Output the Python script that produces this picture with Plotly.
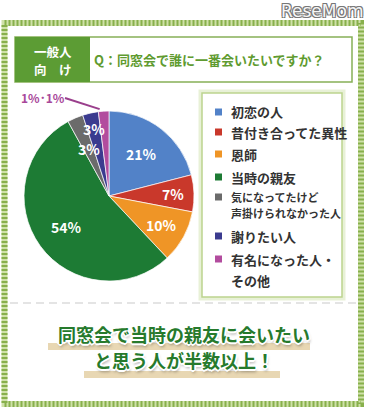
import numpy as np
import plotly.graph_objects as go

W, H = 368, 414

# ---- data ----
categories = ["初恋の人", "昔付き合ってた異性", "恩師", "当時の親友",
              "気になってたけど<br>声掛けられなかった人", "謝りたい人",
              "有名になった人・<br>その他", "有名になった人・<br>その他"]
values = [21, 7, 10, 54, 3, 3, 1, 1]
colors = ["#5282c8", "#c9382b", "#ef9526", "#1d7b34", "#6b6b6b", "#3b3b8f", "#b24c9e"]
legend_lines = [["初恋の人"], ["昔付き合ってた異性"], ["恩師"], ["当時の親友"],
                ["気になってたけど", "声掛けられなかった人"], ["謝りたい人"],
                ["有名になった人・", "その他"]]
title_tag = ["一般人", "向　け"]
question = "Q：同窓会で誰に一番会いたいですか？"
conclusion = ["同窓会で当時の親友に会いたい", "と思う人が半数以上！"]

FONT = "Noto Sans CJK JP"

def px(x):
    return x / W

def py(y):
    return 1 - y / H

# pie geometry (pixels)
CX, CY, R = 109, 196, 85

fig = go.Figure()
fig.add_trace(go.Pie(
    labels=categories, values=values, sort=False, direction="clockwise",
    rotation=0, marker=dict(colors=colors, line=dict(color="rgba(255,255,255,0.7)", width=1)),
    textinfo="none", showlegend=False, hole=0,
    domain=dict(x=[px(CX - R), px(CX + R)], y=[py(CY + R), py(CY - R)]),
))

# aggregate values per unique label for label placement
uniq = []
agg = []
for c, v in zip(categories, values):
    if c in uniq:
        agg[uniq.index(c)] += v
    else:
        uniq.append(c)
        agg.append(v)
agg = np.array(agg, dtype=float)
cum = np.cumsum(agg) - agg / 2
mid_deg = cum / agg.sum() * 360.0
rfrac = [0.63, 0.75, 0.70, 0.62, 0.60, 0.81]

annotations = []
shapes = []
for i in range(6):
    a = np.deg2rad(mid_deg[i])
    x = CX + rfrac[i] * R * np.sin(a)
    y = CY - rfrac[i] * R * np.cos(a)
    annotations.append(dict(x=px(x), y=py(y), xref="paper", yref="paper",
                            text=f"<b>{int(agg[i])}%</b>", showarrow=False,
                            font=dict(family=FONT, size=14, color="white"),
                            xanchor="center", yanchor="middle"))

# small slices label
small = values[6:]
a = np.deg2rad(mid_deg[6])
ex = CX + R * np.sin(a) - 4
ey = CY - R * np.cos(a) - 2
annotations.append(dict(x=px(43), y=py(97), xref="paper", yref="paper",
                        text="<b>" + "･".join(f"{v}%" for v in small) + "</b>",
                        showarrow=False, font=dict(family=FONT, size=12, color="#a8479a"),
                        xanchor="center", yanchor="middle"))
shapes.append(dict(type="line", xref="paper", yref="paper", x0=px(65), y0=py(98),
                   x1=px(ex), y1=py(ey), line=dict(color="#9a3f8c", width=2)))

# outer hatched frame
shapes.append(dict(type="rect", xref="paper", yref="paper", x0=px(4.5), x1=px(361),
                   y0=py(404), y1=py(23), line=dict(color="#cfe1a8", width=6), layer="below"))
shapes.append(dict(type="rect", xref="paper", yref="paper", x0=px(4.5), x1=px(361),
                   y0=py(404), y1=py(23), line=dict(color="#88b04c", width=6, dash="2px,2px"), layer="below"))

# header
shapes.append(dict(type="rect", xref="paper", yref="paper", x0=px(15), x1=px(352),
                   y0=py(82), y1=py(37), line=dict(color="#86b057", width=1.5), fillcolor="white", layer="below"))
shapes.append(dict(type="rect", xref="paper", yref="paper", x0=px(15), x1=px(90),
                   y0=py(82), y1=py(37), line=dict(width=0), fillcolor="#5c9c34", layer="below"))
for txt, yy in zip(title_tag, [51, 70]):
    annotations.append(dict(x=px(52.5), y=py(yy), xref="paper", yref="paper", text=f"<b>{txt}</b>",
                            showarrow=False, font=dict(family=FONT, size=12.5, color="white"),
                            xanchor="center", yanchor="middle"))
annotations.append(dict(x=px(92), y=py(60), xref="paper", yref="paper", text=f"<b>{question}</b>",
                        showarrow=False, font=dict(family=FONT, size=13, color="#5f9b30"),
                        xanchor="left", yanchor="middle"))

# legend box
shapes.append(dict(type="rect", xref="paper", yref="paper", x0=px(202), x1=px(342),
                   y0=py(297), y1=py(93), line=dict(color="rgba(190,215,140,0.35)", width=7), layer="below"))
shapes.append(dict(type="rect", xref="paper", yref="paper", x0=px(202), x1=px(342),
                   y0=py(297), y1=py(93), line=dict(color="#bcd48f", width=1.5), fillcolor="white", layer="below"))

legend_y = [[112], [132], [154], [177], [197, 213], [236], [259, 280]]
for i, lines in enumerate(legend_lines):
    y0 = legend_y[i][0]
    shapes.append(dict(type="rect", xref="paper", yref="paper", x0=px(215), x1=px(222),
                       y0=py(y0 + 3.5), y1=py(y0 - 3.5), line=dict(width=0), fillcolor=colors[i]))
    fs = 11 if i == 4 else 13
    for ln, yy in zip(lines, legend_y[i]):
        annotations.append(dict(x=px(229), y=py(yy), xref="paper", yref="paper", text=f"<b>{ln}</b>",
                                showarrow=False, font=dict(family=FONT, size=fs, color="#333333"),
                                xanchor="left", yanchor="middle"))

# dashed separator
shapes.append(dict(type="line", xref="paper", yref="paper", x0=px(10), x1=px(356), y0=py(303), y1=py(303),
                   line=dict(color="#dcdcdc", width=1.5, dash="8px,5px")))

# brush highlights
shapes.append(dict(type="rect", xref="paper", yref="paper", x0=px(48), x1=px(310), y0=py(350), y1=py(343),
                   line=dict(width=0), fillcolor="rgba(226,205,160,0.8)"))
shapes.append(dict(type="rect", xref="paper", yref="paper", x0=px(84), x1=px(280), y0=py(378), y1=py(371),
                   line=dict(width=0), fillcolor="rgba(226,205,160,0.8)"))
outline = ("1px 1px 0 #fff, -1px -1px 0 #fff, 1px -1px 0 #fff, -1px 1px 0 #fff, "
           "2px 0 0 #fff, -2px 0 0 #fff, 0 2px 0 #fff, 0 -2px 0 #fff, 1px 3px 3px rgba(0,0,0,0.35)")
for txt, yy in zip(conclusion, [334, 360]):
    annotations.append(dict(x=px(184), y=py(yy), xref="paper", yref="paper", text=f"<b>{txt}</b>",
                            showarrow=False, font=dict(family=FONT, size=18, color="#267a2c", shadow=outline),
                            xanchor="center", yanchor="middle"))

# watermark
annotations.append(dict(x=px(322), y=py(11), xref="paper", yref="paper", text="ReseMom",
                        showarrow=False,
                        font=dict(family="DejaVu Sans", size=17, color="#f6f6f6",
                                  shadow="1px 1px 0 #777, -1px -1px 0 #777, 1px -1px 0 #777, -1px 1px 0 #777"),
                        xanchor="center", yanchor="middle"))

fig.update_layout(width=W, height=H, margin=dict(l=0, r=0, t=0, b=0),
                  paper_bgcolor="white", plot_bgcolor="white",
                  shapes=shapes, annotations=annotations)
fig.write_html("out.html", config={"displayModeBar": False})
